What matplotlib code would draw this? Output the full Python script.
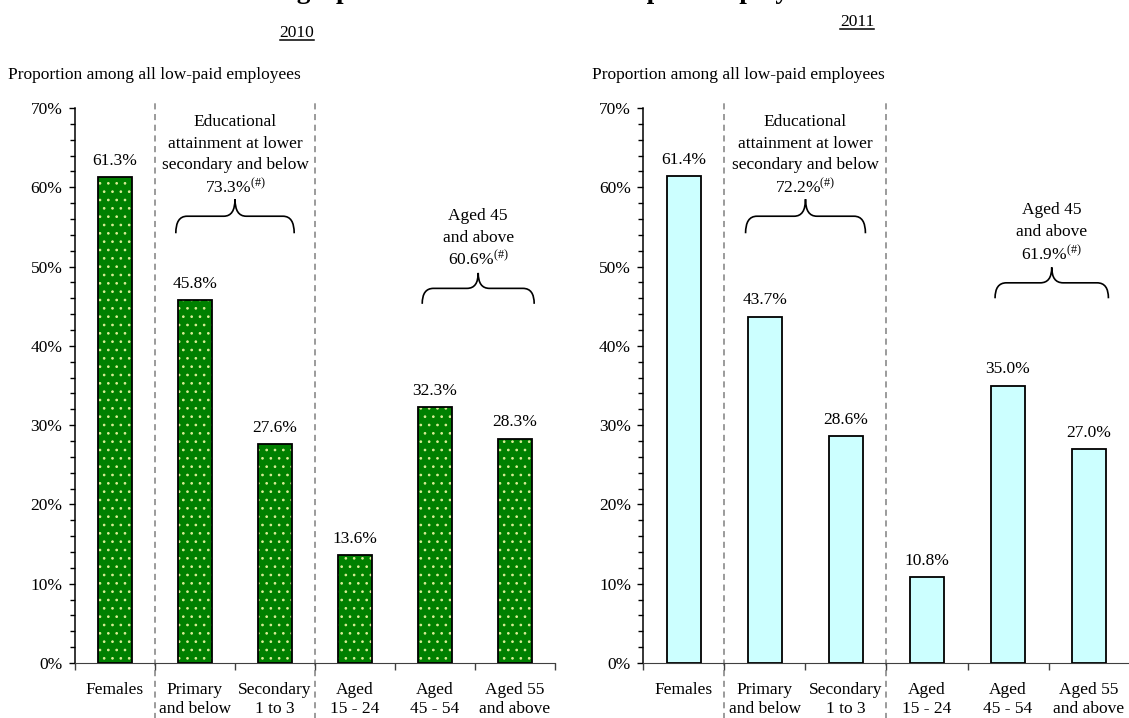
import matplotlib.pyplot as plt
import numpy as np
from matplotlib.path import Path
from matplotlib.patches import PathPatch
from matplotlib.lines import Line2D

plt.rcParams['font.family'] = ['Liberation Serif', 'DejaVu Serif']
plt.rcParams['mathtext.fontset'] = 'custom'
plt.rcParams['mathtext.rm'] = 'Liberation Serif'
plt.rcParams['mathtext.default'] = 'regular'
plt.rcParams['hatch.linewidth'] = 0.7

W, H = 1129, 718

categories = ['Females', 'Primary\nand below', 'Secondary\n1 to 3',
              'Aged\n15 - 24', 'Aged\n45 - 54', 'Aged 55\nand above']
values_2010 = [61.3, 45.8, 27.6, 13.6, 32.3, 28.3]
values_2011 = [61.4, 43.7, 28.6, 10.8, 35.0, 27.0]
edu_total = {'2010': 73.3, '2011': 72.2}
aged_total = {'2010': 60.6, '2011': 61.9}

title = 'Demographic characteristics of low-paid employees'
ylabel = 'Proportion among all low-paid employees'
FS = 12.5


def px_rect(l, r, t, b):
    return [l / W, 1 - b / H, (r - l) / W, (b - t) / H]


def brace(ax, x0, x1, y0, h, r=0.14):
    xm = (x0 + x1) / 2
    y1 = y0 + h / 2
    y2 = y0 + h
    verts = [(x0, y0), (x0, y1), (x0 + r, y1),
             (xm - r, y1), (xm, y1), (xm, y2),
             (xm, y1), (xm + r, y1),
             (x1 - r, y1), (x1, y1), (x1, y0)]
    codes = [Path.MOVETO, Path.CURVE3, Path.CURVE3,
             Path.LINETO, Path.CURVE3, Path.CURVE3,
             Path.CURVE3, Path.CURVE3,
             Path.LINETO, Path.CURVE3, Path.CURVE3]
    ax.add_patch(PathPatch(Path(verts, codes), fill=False, lw=1.2,
                           ec='black', clip_on=False))


def panel(ax, values, style, edu, aged, edu_y, aged_y):
    x = np.arange(len(values))
    if style == 'green':
        ax.bar(x, values, width=0.42, color='#008000', edgecolor='#DDEE99',
               hatch='..', linewidth=0, zorder=2)
        ax.bar(x, values, width=0.42, facecolor='none', edgecolor='black',
               linewidth=1.3, zorder=3)
    else:
        ax.bar(x, values, width=0.42, color='#CCFFFF', edgecolor='black',
               linewidth=1.3, zorder=3)
    for xi, v in zip(x, values):
        ax.annotate(f'{v:.1f}%', xy=(xi, v), xytext=(0, 6),
                    textcoords='offset points', ha='center', va='bottom',
                    fontsize=FS)

    ax.set_xlim(-0.5, len(values) - 0.5)
    ax.set_ylim(0, 70)
    ax.set_yticks(np.arange(0, 71, 10))
    ax.set_yticklabels([f'{t}%' for t in range(0, 71, 10)], fontsize=FS)
    ax.set_yticks(np.arange(0, 71, 2), minor=True)
    ax.tick_params(axis='y', which='major', length=4, width=1, pad=5)
    ax.tick_params(axis='y', which='minor', length=3.5, width=1)

    ax.set_xticks(np.arange(-0.5, len(values), 1.0))
    ax.set_xticklabels([])
    ax.set_xticks(x, minor=True)
    ax.set_xticklabels(categories, minor=True, fontsize=FS)
    ax.tick_params(axis='x', which='major', length=5, width=1, color='#404040')
    ax.tick_params(axis='x', which='minor', length=0, pad=14)

    for s in ['top', 'right']:
        ax.spines[s].set_visible(False)
    ax.spines['bottom'].set_color('#404040')
    ax.spines['left'].set_linewidth(1.1)

    for b in [0.5, 2.5]:
        ax.plot([b, b], [-7.5, 70.6], ls=(0, (4, 3)), color='#808080', lw=1.1,
                clip_on=False, zorder=1)

    step = 2.75
    edu_lines = ['Educational', 'attainment at lower', 'secondary and below',
                 f'{edu:.1f}%$^{{(\\#)}}$']
    for k, line in enumerate(edu_lines):
        ax.text(1.5, edu_y + (len(edu_lines) - 1 - k) * step, line,
                ha='center', va='center', fontsize=FS)
    brace(ax, 0.76, 2.24, edu_y - 5.8, 4.3)

    aged_lines = ['Aged 45', 'and above', f'{aged:.1f}%$^{{(\\#)}}$']
    for k, line in enumerate(aged_lines):
        ax.text(4.54, aged_y + (len(aged_lines) - 1 - k) * step, line,
                ha='center', va='center', fontsize=FS)
    brace(ax, 3.84, 5.24, aged_y - 5.6, 3.9)


fig = plt.figure(figsize=(W / 100, H / 100), dpi=100)
ax1 = fig.add_axes(px_rect(75, 555, 108, 663))
ax2 = fig.add_axes(px_rect(643.5, 1129.5, 108, 663))

panel(ax1, values_2010, 'green', edu_total['2010'], aged_total['2010'], 60.0, 50.9)
panel(ax2, values_2011, 'cyan', edu_total['2011'], aged_total['2011'], 60.0, 51.6)

# title runs off the top edge, as in the source picture
fig.text(526 / W, 1 + 1.5 / H, title, ha='center', va='baseline',
         fontsize=19.5, fontweight='bold')
fig.text(8 / W, 1 - 75 / H, ylabel, ha='left', va='center', fontsize=FS)
fig.text(592 / W, 1 - 75 / H, ylabel, ha='left', va='center', fontsize=FS)

years = []
years.append(fig.text(297 / W, 1 - 33 / H, '2010', ha='center', va='center', fontsize=FS))
years.append(fig.text(857 / W, 1 - 22 / H, '2011', ha='center', va='center', fontsize=FS))

fig.canvas.draw()
renderer = fig.canvas.get_renderer()
for t in years:
    bb = t.get_window_extent(renderer)
    yline = bb.y0 + 1.5
    fig.add_artist(Line2D([bb.x0 / W, bb.x1 / W], [yline / H, yline / H],
                          color='black', lw=1.1, transform=fig.transFigure))

fig.savefig('out.png', dpi=100)
